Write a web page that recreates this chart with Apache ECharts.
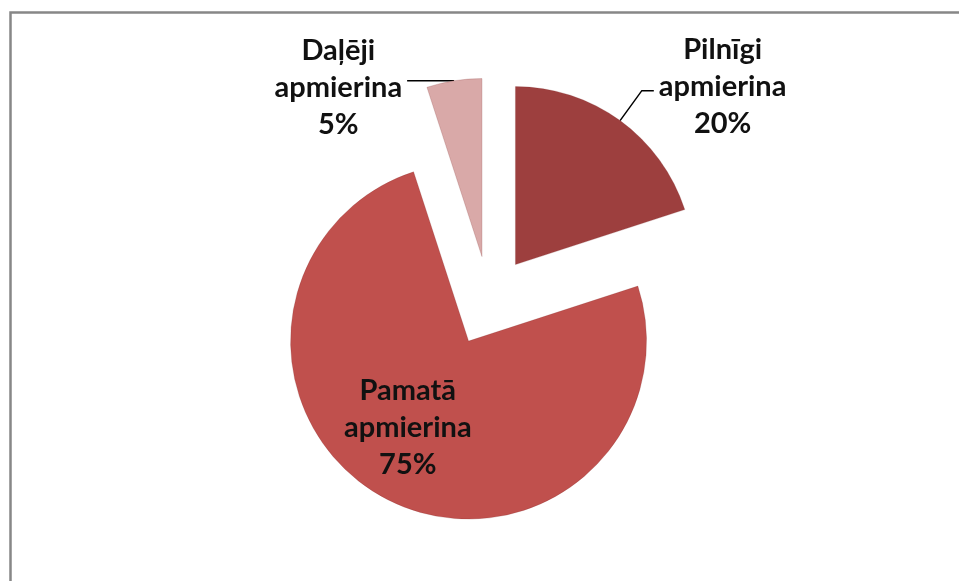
<!DOCTYPE html>
<html>
<head>
<meta charset="utf-8">
<script src="https://cdn.jsdelivr.net/npm/echarts@6/dist/echarts.min.js"></script>
<style>
  html, body { margin: 0; padding: 0; background: #fff; }
  #pieChart { width: 959px; height: 581px; }
</style>
</head>
<body>
<div id="pieChart"></div>
<script>
// dati no attēla
const names = ["Pilnīgi apmierina", "Pamatā apmierina", "Daļēji apmierina"];
const values = [20, 75, 5];
const colors = ["#9d3f3e", "#c0504d", "#d9a9a8"];

let chart = echarts.init(document.getElementById("pieChart"));

const labelFont = {
  fontFamily: "Lato",
  fontWeight: "bold",
  fontSize: 29,
  lineHeight: 37,
  color: "#111",
  align: "center"
};

// per-slice label tweaks (placement only)
const labelCfg = [
  { position: "outside", padding: [0, 0, 8, 0] },
  { position: "inside", padding: [10, 38, 0, 0] },
  { position: "outside", padding: [14, 0, 0, 0] }
];
const lineCfg = [
  { show: true, length: 37, length2: 12 },
  { show: false },
  { show: true, length: 0, length2: 47 }
];

let pieData = [];
for (let i = 0; i < names.length; i++) {
  pieData.push({
    name: names[i],
    value: values[i],
    selected: true,
    itemStyle: { color: colors[i] },
    label: labelCfg[i],
    labelLine: lineCfg[i]
  });
}

let option = {
  animation: false,
  graphic: [
    {
      type: "rect",
      shape: { x: 10.5, y: 12.5, width: 1000, height: 1000 },
      style: { fill: "none", stroke: "#878787", lineWidth: 2.5 },
      silent: true
    }
  ],
  series: [
    {
      type: "pie",
      center: [489, 301],
      radius: 178,
      startAngle: 90,
      clockwise: true,
      selectedMode: "multiple",
      selectedOffset: 45,
      percentPrecision: 0,
      avoidLabelOverlap: false,
      data: pieData,
      itemStyle: {
        borderColor: "rgba(120,40,40,0.35)",
        borderWidth: 0.6
      },
      emphasis: { scale: false, disabled: true },
      label: {
        show: true,
        alignTo: "none",
        formatter: function (p) {
          let parts = p.name.split(" ");
          return "{c|" + parts[0] + "}\n{c|" + parts[1] + "}\n{c|" + p.percent + "%}";
        },
        fontFamily: "Lato",
        fontWeight: "bold",
        fontSize: 29,
        lineHeight: 37,
        color: "#111",
        rich: { c: labelFont }
      },
      labelLine: {
        lineStyle: { color: "#000", width: 1.5 }
      }
    }
  ]
};

chart.setOption(option);
</script>
</body>
</html>
